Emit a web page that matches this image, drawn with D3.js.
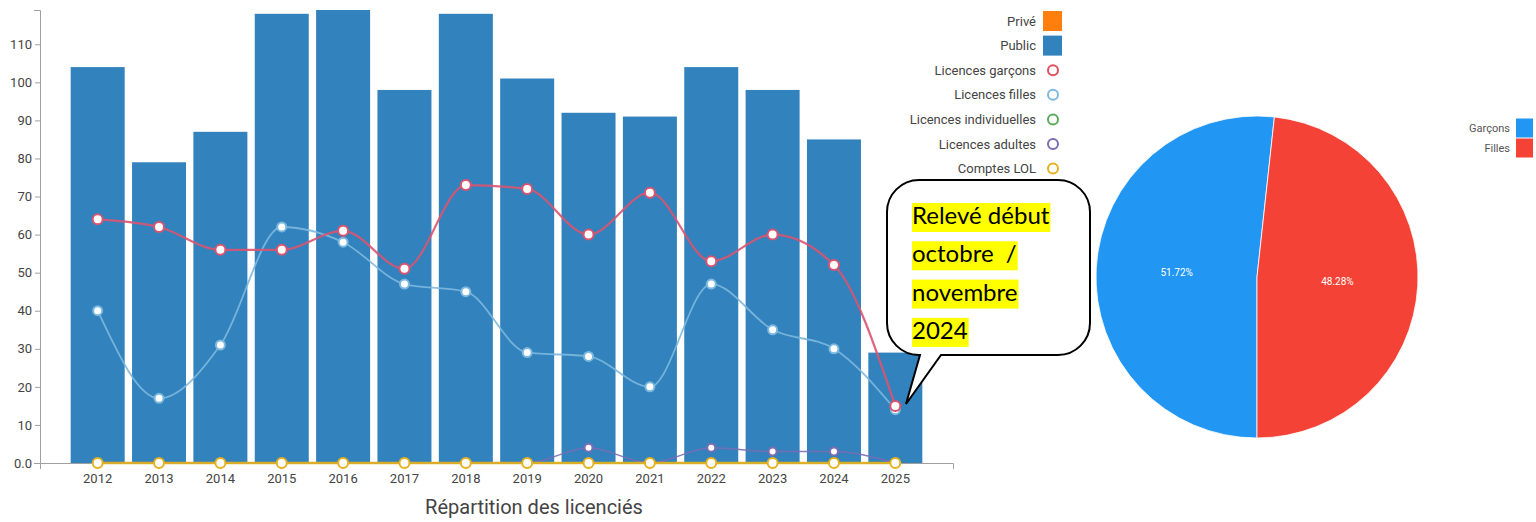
<!DOCTYPE html>
<html>
<head>
<meta charset="utf-8">
<script src="https://cdn.jsdelivr.net/npm/d3@7"></script>
<style>
body{margin:0;background:#fff;}
svg{font-family:Roboto, sans-serif;}
</style>
</head>
<body>
<script>
// données
var annees = ["2012","2013","2014","2015","2016","2017","2018","2019","2020","2021","2022","2023","2024","2025"];
var prive = [0,0,0,0,0,0,0,0,0,0,0,0,0,0];
var publicTotal = [104,79,87,118,119,98,118,101,92,91,104,98,85,29];
var garcons = [64,62,56,56,61,51,73,72,60,71,53,60,52,15];
var filles = [40,17,31,62,58,47,45,29,28,20,47,35,30,14];
var individuelles = [0,0,0,0,0,0,0,0,0,0,0,0,0,0];
var adultes = [0,0,0,0,0,0,0,0,4,0,4,3,3,0];
var comptesLOL = [0,0,0,0,0,0,0,0,0,0,0,0,0,0];
var yTicks = [0,10,20,30,40,50,60,70,80,90,100,110];
var legendeNoms = ["Privé","Public","Licences garçons","Licences filles","Licences individuelles","Licences adultes","Comptes LOL"];
var pieNoms = ["Garçons","Filles"];
var pieValeurs = [15,14];

var couleurs = ["#ff7f0e","#3182bd","#e0505e","#7db8de","#5cab5c","#7b6cb5","#e6b01e"];
var pieCouleurs = ["#2196f3","#f44336"];

var svg = d3.select("body").append("svg")
    .attr("width",1536)
    .attr("height",522);

var x = d3.scaleBand().domain(annees).range([40,953]).paddingInner(0.12).paddingOuter(0.5);
var y = d3.scaleLinear().domain([0,119]).range([463,10]);

// barres (Privé empilé sur Public)
var bars = svg.append("g");
bars.selectAll("rect.pub")
    .data(publicTotal)
    .enter().append("rect")
    .attr("class","pub")
    .attr("x",function(d,i){ return x(annees[i]); })
    .attr("width",x.bandwidth())
    .attr("y",function(d){ return y(d); })
    .attr("height",function(d){ return y(0)-y(d); })
    .attr("fill",couleurs[1]);
bars.selectAll("rect.priv")
    .data(prive)
    .enter().append("rect")
    .attr("class","priv")
    .attr("x",function(d,i){ return x(annees[i]); })
    .attr("width",x.bandwidth())
    .attr("y",function(d,i){ return y(d+publicTotal[i]); })
    .attr("height",function(d){ return y(0)-y(d); })
    .attr("fill",couleurs[0]);

// axes
var yAxis = svg.append("g")
    .attr("transform","translate(40,0)")
    .call(d3.axisLeft(y).tickValues(yTicks).tickSize(5).tickSizeOuter(6)
        .tickFormat(function(d){ return d===0 ? "0.0" : d; }));
var xAxis = svg.append("g")
    .attr("transform","translate(0,463)")
    .call(d3.axisBottom(x).tickSize(0).tickSizeOuter(6).tickPadding(11));
svg.selectAll(".domain, .tick line").attr("stroke","#a0a0a0");
svg.selectAll(".tick text").attr("font-size",13).attr("fill","#444").attr("font-family","Roboto, sans-serif");

svg.append("text")
    .attr("x",534).attr("y",514)
    .attr("text-anchor","middle")
    .attr("font-size",20)
    .attr("fill","#444")
    .text("Répartition des licenciés");

// courbes
var ligne = d3.line()
    .x(function(d,i){ return x(annees[i]) + x.bandwidth()/2; })
    .y(function(d){ return y(d); })
    .curve(d3.curveMonotoneX);

var series = [
    {v: individuelles, c: couleurs[4], w: 1.5, r: 4},
    {v: adultes, c: couleurs[5], w: 1.5, r: 4},
    {v: filles, c: couleurs[3], w: 1.8, r: 4.5},
    {v: garcons, c: "#dc5470", w: 2.2, r: 5},
    {v: comptesLOL, c: couleurs[6], w: 2.5, r: 5}
];
series.forEach(function(s){
    var g = svg.append("g");
    g.append("path")
        .attr("d",ligne(s.v))
        .attr("fill","none")
        .attr("stroke",s.c)
        .attr("stroke-width",s.w)
        .attr("opacity",0.9);
    g.selectAll("circle")
        .data(s.v)
        .enter().append("circle")
        .attr("cx",function(d,i){ return x(annees[i]) + x.bandwidth()/2; })
        .attr("cy",function(d){ return y(d); })
        .attr("r",s.r)
        .attr("fill","#fff")
        .attr("stroke",s.c)
        .attr("stroke-width",2);
});

// légende
var leg = svg.append("g");
legendeNoms.forEach(function(nom,i){
    var cy = 21 + i*24.6;
    leg.append("text")
        .attr("x",1036).attr("y",cy)
        .attr("dy","0.35em")
        .attr("text-anchor","end")
        .attr("font-size",13)
        .attr("fill","#444")
        .text(nom);
    if (i < 2) {
        leg.append("rect")
            .attr("x",1043).attr("y",cy-10)
            .attr("width",19).attr("height",20)
            .attr("fill",couleurs[i]);
    } else {
        leg.append("circle")
            .attr("cx",1053).attr("cy",cy)
            .attr("r",5)
            .attr("fill","#fff")
            .attr("stroke",couleurs[i])
            .attr("stroke-width",2);
    }
});

// bulle d'annotation
svg.append("path")
    .attr("d","M919,180 H1058 A32,32 0 0 1 1090,212 V323 A32,32 0 0 1 1058,355 H941 L906,404 L920,355 H919 A32,32 0 0 1 887,323 V212 A32,32 0 0 1 919,180 Z")
    .attr("fill","#fff")
    .attr("stroke","#000")
    .attr("stroke-width",2);

var lignesBulle = ["Relevé début","octobre  /","novembre","2024"];
var bulle = svg.append("g");
lignesBulle.forEach(function(t,i){
    var by = 224 + i*38.3;
    var hl = bulle.append("rect").attr("fill","#ffff00");
    var tx = bulle.append("text")
        .attr("x",912).attr("y",by)
        .attr("font-family","Lato, 'Open Sans', sans-serif")
        .attr("font-size",24)
        .attr("fill","#000")
        .attr("xml:space","preserve")
        .style("white-space","pre")
        .text(t);
    var w = tx.node().getComputedTextLength();
    hl.attr("x",912).attr("y",by-21).attr("width",w+1).attr("height",29);
});

// camembert 2025
var pie = d3.pie().sort(null).startAngle(Math.PI).endAngle(3*Math.PI);
var arc = d3.arc().innerRadius(0).outerRadius(161);
var pg = svg.append("g").attr("transform","translate(1257,277)");
var arcs = pie(pieValeurs);
pg.selectAll("path")
    .data(arcs)
    .enter().append("path")
    .attr("d",arc)
    .attr("fill",function(d,i){ return pieCouleurs[i]; })
    .attr("stroke","#fff")
    .attr("stroke-width",0.8);
var total = d3.sum(pieValeurs);
pg.selectAll("text")
    .data(arcs)
    .enter().append("text")
    .attr("transform",function(d){ return "translate(" + arc.centroid(d) + ")"; })
    .attr("text-anchor","middle")
    .attr("dy","0.35em")
    .attr("font-size",10)
    .attr("fill","#fff")
    .text(function(d){ return (d.value/total*100).toFixed(2) + "%"; });

var pleg = svg.append("g");
pieNoms.forEach(function(nom,i){
    var cy = 128 + i*20;
    pleg.append("text")
        .attr("x",1510).attr("y",cy)
        .attr("dy","0.35em")
        .attr("text-anchor","end")
        .attr("font-size",11)
        .attr("fill","#555")
        .text(nom);
    pleg.append("rect")
        .attr("x",1516).attr("y",cy-9.5)
        .attr("width",17).attr("height",19)
        .attr("fill",pieCouleurs[i]);
});
</script>
</body>
</html>
